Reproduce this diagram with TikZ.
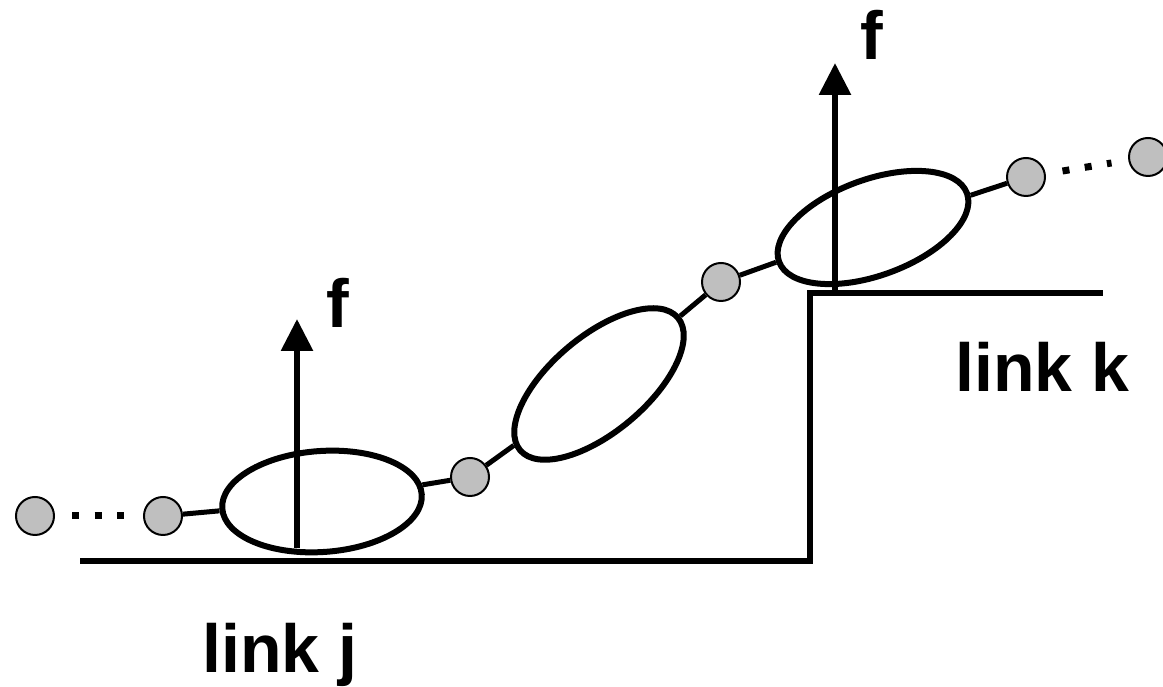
\documentclass[tikz,border=0pt]{standalone}
\usepackage{fontspec}
\setmainfont{Liberation Sans}
\usetikzlibrary{shapes.geometric,arrows.meta}
\tikzset{
  bead/.style={circle, draw=black, line width=2pt, fill=black!25, minimum size=38pt, inner sep=0pt},
  body/.style={ellipse, draw=black, line width=6pt, minimum width=200pt, minimum height=101pt, inner sep=0pt},
  joint/.style={line width=5pt},
  dots/.style={line width=7pt, dash pattern=on 7pt off 15.5pt, shorten <=17pt, shorten >=17pt},
  ground/.style={line width=6pt},
  force/.style={line width=6pt, -{Triangle[length=32pt,width=31pt]}},
  lbl/.style={font=\bfseries\fontsize{68}{70}\selectfont, inner sep=0pt, anchor=base west}
}
\begin{document}
\begin{tikzpicture}[x=1pt, y=1pt]
    \useasboundingbox (0,0) rectangle (1163,687);
    % links
        \draw[ground] (80,126) -- (810,126) -- (810,394) -- (1103,394);
    % chain of beads and bodies
        \foreach \name/\x/\y in {b1/35/171, b2/163/171, b3/470/210, b4/721/405, b5/1026/510, b6/1148/530} {
            \node[bead] (\name) at (\x,\y) {};
        }
        \node[body, rotate=4] (e1) at (322,185.5) {};
        \node[body, rotate=40, minimum width=206pt, minimum height=96pt] (e2) at (599,303) {};
        \node[body, rotate=20, minimum height=96pt] (e3) at (873,459.5) {};
        \draw[dots] (b1) -- (b2);
        \draw[joint] (b2) -- (e1);
        \draw[joint] (e1) -- (b3);
        \draw[joint] (b3) -- (e2);
        \draw[joint] (e2) -- (b4);
        \draw[joint] (b4) -- (e3);
        \draw[joint] (e3) -- (b5);
        \draw[dots] (b5) -- (b6);
    % forces
        \coordinate (f1base) at (297,139);
        \coordinate (f1tip) at (297,368);
        \coordinate (f2base) at (835,397);
        \coordinate (f2tip) at (835,624);
        \draw[force] (f1base) -- (f1tip);
        \draw[force] (f2base) -- (f2tip);
        \node[lbl] (f1) at (326,359) {f};
        \node[lbl] (f2) at (860,627) {f};
        \node[lbl] (linkk) at (955,295) {link k};
        \node[lbl] (linkj) at (202,14) {link j};
    \end{tikzpicture}
\end{document}
